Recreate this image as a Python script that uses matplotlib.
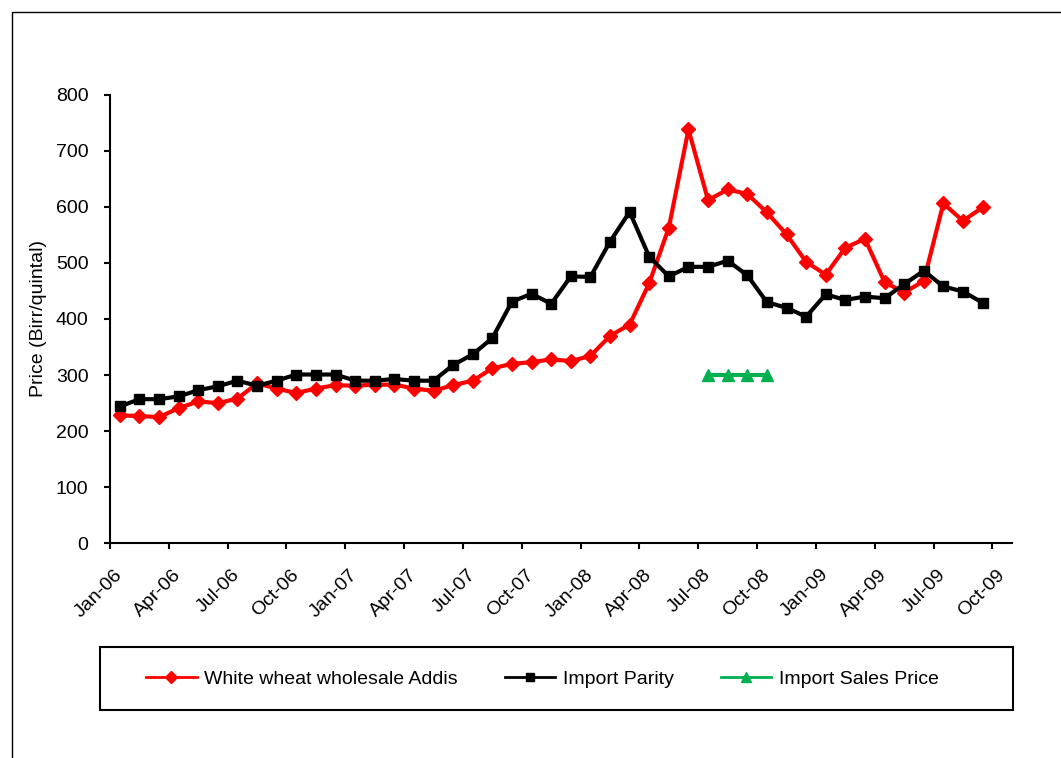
import numpy as np
import matplotlib
matplotlib.use("Agg")
from matplotlib import pyplot as plt
from matplotlib.patches import Rectangle
from matplotlib.lines import Line2D

# monthly prices, Jan-06 .. Sep-09 (Birr/quintal)
month_labels = ["Jan-06", "Apr-06", "Jul-06", "Oct-06", "Jan-07", "Apr-07", "Jul-07", "Oct-07",
                "Jan-08", "Apr-08", "Jul-08", "Oct-08", "Jan-09", "Apr-09", "Jul-09", "Oct-09"]
addis_wheat = [228, 227, 225, 241, 253, 250, 258, 285, 276, 268, 276, 282, 281, 283, 283,
               276, 272, 282, 290, 312, 320, 323, 328, 325, 334, 370, 390, 464, 563, 738,
               612, 631, 623, 590, 551, 502, 479, 527, 543, 466, 447, 468, 606, 575, 599]
import_parity = [244, 257, 257, 262, 273, 280, 290, 281, 290, 301, 301, 301, 290, 290, 293,
                 290, 290, 318, 337, 366, 431, 445, 427, 476, 475, 538, 591, 511, 476, 493,
                 493, 504, 478, 430, 420, 404, 444, 434, 440, 437, 462, 486, 458, 449, 429]
# import sales price only quoted Jul-08 .. Oct-08
sales_start = 30
import_sales = [300, 300, 300, 300]

plt.rcParams['font.family'] = ['Liberation Sans', 'DejaVu Sans']
FS = 14

W, H = 1061, 758
fig = plt.figure(figsize=(W / 100, H / 100), dpi=100)
ax = fig.add_axes([110 / W, 1 - 543.3 / H, (1012 - 110) / W, (543.3 - 94.7) / H])

# points sit in the middle of each month
x_all = np.arange(len(addis_wheat)) + 0.5
x_sales = np.arange(sales_start, sales_start + len(import_sales)) + 0.5

red = '#FF0000'
blk = '#000000'
grn = '#00B050'
ax.plot(x_all, addis_wheat, color=red, lw=3, marker='D', ms=7, mec=red, mfc=red,
        label="White wheat wholesale Addis", zorder=3)
ax.plot(x_all, import_parity, color=blk, lw=3, marker='s', ms=7.5, mec=blk, mfc=blk,
        label="Import Parity", zorder=3)
ax.plot(x_sales, import_sales, color=grn, lw=3, marker='^', ms=9, mec=grn, mfc=grn,
        label="Import Sales Price", zorder=3)

ax.set_xlim(0, 46)
ax.set_ylim(0, 800)
ax.set_yticks(np.arange(0, 801, 100))
tick_pos = np.arange(0, 46, 3)
ax.set_xticks(tick_pos)
ax.set_xticklabels([])
# slanted date labels, their ends sitting just right of each tick
for t, lab in zip(tick_pos, month_labels):
    ax.annotate(lab, xy=(t, 0), xycoords=('data', 'axes fraction'),
                xytext=(7.2, -20.7), textcoords='offset points', fontsize=FS,
                rotation=45, ha='right', va='center', rotation_mode='anchor',
                annotation_clip=False)

for side in ['top', 'right']:
    ax.spines[side].set_visible(False)
for side in ['left', 'bottom']:
    ax.spines[side].set_linewidth(1.5)
ax.tick_params(axis='both', direction='out', length=4.5, width=1.5, labelsize=FS)
ax.tick_params(axis='y', pad=11)
ax.set_ylabel("Price (Birr/quintal)", fontsize=FS, labelpad=6)

# legend: entries without frame, box drawn separately
handles = [Line2D([], [], color=red, lw=2, marker='D', ms=6),
           Line2D([], [], color=blk, lw=2, marker='s', ms=6),
           Line2D([], [], color=grn, lw=2, marker='^', ms=7)]
labels = ["White wheat wholesale Addis", "Import Parity", "Import Sales Price"]
fig.legend(handles, labels, loc='center left', bbox_to_anchor=(146 / W, 1 - 679 / H),
           ncol=3, frameon=False, fontsize=FS, handlelength=2.6, handletextpad=0.4,
           columnspacing=2.4, borderpad=0, borderaxespad=0)
fig.add_artist(Rectangle((100 / W, 1 - 710 / H), (1013 - 100) / W, (710 - 647) / H,
                         transform=fig.transFigure, fill=False, ec='black', lw=1.5))

# outer chart border, running off the right and bottom edges
fig.add_artist(Rectangle((12 / W, -0.1), 1.2, 1 - 12 / H + 0.1,
                         transform=fig.transFigure, fill=False, ec='black', lw=1.0))

fig.savefig("out.png", dpi=100)
